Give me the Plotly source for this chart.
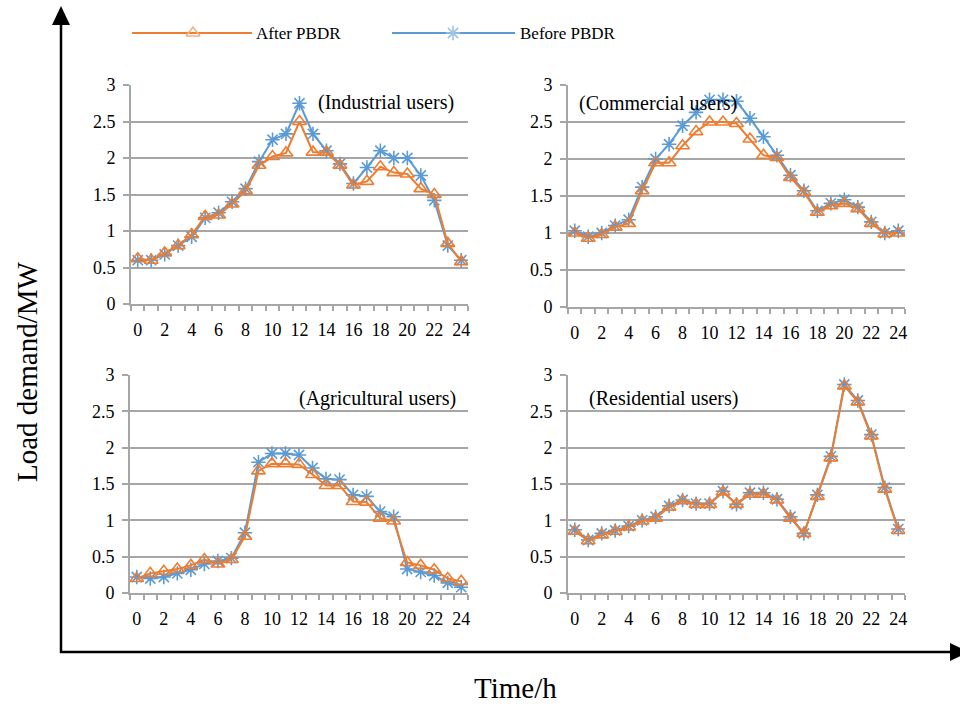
import plotly.graph_objects as go

hours = list(range(25))
tick_vals = list(range(0, 25, 2))
tick_text = [str(v) for v in tick_vals]

industrial_before = [0.60, 0.60, 0.68, 0.80, 0.92, 1.18, 1.25, 1.40, 1.58, 1.95, 2.25, 2.33, 2.75,
                     2.33, 2.10, 1.92, 1.65, 1.87, 2.10, 2.00, 2.00, 1.76, 1.42, 0.80, 0.60]
industrial_after = [0.62, 0.60, 0.70, 0.80, 0.95, 1.20, 1.22, 1.37, 1.55, 1.90, 2.02, 2.07, 2.50,
                    2.08, 2.08, 1.90, 1.63, 1.68, 1.88, 1.80, 1.78, 1.58, 1.50, 0.83, 0.58]

commercial_before = [1.03, 0.95, 1.00, 1.10, 1.18, 1.62, 2.00, 2.20, 2.45, 2.63, 2.80, 2.80, 2.78,
                     2.55, 2.30, 2.05, 1.78, 1.57, 1.30, 1.40, 1.45, 1.35, 1.15, 1.00, 1.03]
commercial_after = [1.00, 0.93, 0.98, 1.08, 1.13, 1.57, 1.95, 1.95, 2.18, 2.37, 2.50, 2.50, 2.48,
                    2.27, 2.05, 2.02, 1.75, 1.55, 1.28, 1.37, 1.40, 1.33, 1.13, 0.99, 1.00]

agricultural_before = [0.22, 0.20, 0.22, 0.27, 0.32, 0.40, 0.44, 0.48, 0.83, 1.80, 1.92, 1.92, 1.90,
                       1.72, 1.57, 1.56, 1.35, 1.33, 1.12, 1.05, 0.33, 0.29, 0.24, 0.14, 0.08]
agricultural_after = [0.20, 0.27, 0.30, 0.33, 0.38, 0.46, 0.40, 0.46, 0.78, 1.68, 1.78, 1.78, 1.77,
                      1.63, 1.48, 1.48, 1.26, 1.25, 1.03, 0.99, 0.42, 0.38, 0.32, 0.20, 0.16]

residential_before = [0.87, 0.73, 0.82, 0.86, 0.92, 1.00, 1.05, 1.20, 1.28, 1.23, 1.23, 1.40, 1.22,
                      1.38, 1.38, 1.29, 1.05, 0.82, 1.35, 1.88, 2.87, 2.65, 2.18, 1.45, 0.88]
residential_after = [0.85, 0.72, 0.80, 0.85, 0.91, 0.99, 1.03, 1.18, 1.27, 1.22, 1.22, 1.39, 1.22,
                     1.36, 1.36, 1.28, 1.03, 0.82, 1.33, 1.86, 2.85, 2.63, 2.16, 1.43, 0.86]

panel_titles = ["(Industrial users)", "(Commercial users)", "(Agricultural users)", "(Residential users)"]
series_names = ["After PBDR", "Before PBDR"]

ORANGE = "#ED7D31"
BLUE = "#5B9BD5"
GRID = "#a6a6a6"
FONT = "Liberation Serif"

W, H = 960, 704

def px_x(p):
    return p / W

def px_y(p):
    return 1 - p / H

# panel pixel boxes: (left, right, top, bottom)
boxes = [(131, 468, 85, 304), (568, 905, 85, 307), (130, 468, 375, 593), (568, 905, 375, 593)]
data_pairs = [(industrial_before, industrial_after), (commercial_before, commercial_after),
              (agricultural_before, agricultural_after), (residential_before, residential_after)]
title_pos = [(0.549, 0.918), (0.027, 0.918), (0.494, 0.894), (0.056, 0.894)]

fig = go.Figure()
layout = dict(
    width=W, height=H, margin=dict(l=0, r=0, t=0, b=0, pad=0, autoexpand=False),
    paper_bgcolor="white", plot_bgcolor="white", showlegend=False,
    font=dict(family=FONT, color="black"),
)
annotations = []

for i, ((l, r, t, b), (before, after)) in enumerate(zip(boxes, data_pairs)):
    n = i + 1
    xa = "x" if n == 1 else f"x{n}"
    ya = "y" if n == 1 else f"y{n}"
    fig.add_trace(go.Scatter(x=hours, y=before, mode="lines+markers", name=series_names[1],
                             line=dict(color=BLUE, width=2),
                             marker=dict(symbol="asterisk-open", size=12, color=BLUE, line=dict(color=BLUE, width=1.6)),
                             xaxis=xa, yaxis=ya))
    fig.add_trace(go.Scatter(x=hours, y=after, mode="lines+markers", name=series_names[0],
                             line=dict(color=ORANGE, width=2),
                             marker=dict(symbol="triangle-up-open", size=12, color=ORANGE, line=dict(color=ORANGE, width=1.6)),
                             xaxis=xa, yaxis=ya))
    kx = "xaxis" if n == 1 else f"xaxis{n}"
    ky = "yaxis" if n == 1 else f"yaxis{n}"
    layout[kx] = dict(domain=[px_x(l), px_x(r)], anchor=ya, range=[-0.5, 24.5], automargin=False,
                      tickvals=tick_vals, ticktext=tick_text, ticks="", showgrid=False,
                      showline=True, linecolor=GRID, linewidth=2, zeroline=False,
                      tickfont=dict(family=FONT, size=18, color="black"), ticklabelstandoff=8,
                      minor=dict(ticks="outside", tick0=-0.5, dtick=1, ticklen=5, tickcolor=GRID, tickwidth=1.5, showgrid=False))
    layout[ky] = dict(domain=[px_y(b), px_y(t)], anchor=xa, range=[0, 3.0001], automargin=False,
                      tickvals=[0, 0.5, 1, 1.5, 2, 2.5, 3], ticktext=["0", "0.5", "1", "1.5", "2", "2.5", "3"],
                      ticks="outside", ticklen=6, tickcolor=GRID, tickwidth=1.5,
                      showgrid=True, gridcolor=GRID, gridwidth=2,
                      showline=True, linecolor=GRID, linewidth=2, zeroline=False,
                      tickfont=dict(family=FONT, size=18, color="black"), ticklabelstandoff=4)
    tx, ty = title_pos[i]
    annotations.append(dict(text=panel_titles[i], xref=f"{xa} domain", yref=f"{ya} domain",
                            x=tx, y=ty, xanchor="left", yanchor="middle", showarrow=False,
                            font=dict(family=FONT, size=20, color="black")))

# legend drawn on a hidden helper axis (pixel-like coordinates)
legend_y = [0.5, 0.5]
fig.add_trace(go.Scatter(x=[132, 252], y=legend_y, mode="lines", line=dict(color=ORANGE, width=2),
                         xaxis="x9", yaxis="y9", hoverinfo="skip"))
fig.add_trace(go.Scatter(x=[193], y=[0.5], mode="markers",
                         marker=dict(symbol="triangle-up-open", size=12, color="#F4B183", line=dict(color="#F4B183", width=1.6)),
                         xaxis="x9", yaxis="y9", hoverinfo="skip"))
fig.add_trace(go.Scatter(x=[392, 515], y=legend_y, mode="lines", line=dict(color=BLUE, width=2),
                         xaxis="x9", yaxis="y9", hoverinfo="skip"))
fig.add_trace(go.Scatter(x=[453], y=[0.5], mode="markers",
                         marker=dict(symbol="asterisk-open", size=12, color="#9DC3E6", line=dict(color="#9DC3E6", width=1.6)),
                         xaxis="x9", yaxis="y9", hoverinfo="skip"))
layout["xaxis9"] = dict(domain=[0, 1], range=[0, W], visible=False, anchor="y9", automargin=False)
layout["yaxis9"] = dict(domain=[px_y(46), px_y(20)], range=[0, 1], visible=False, anchor="x9", automargin=False)
annotations.append(dict(text=series_names[0], xref="paper", yref="paper", x=px_x(254), y=px_y(33),
                        xanchor="left", yanchor="middle", showarrow=False, font=dict(family=FONT, size=17)))
annotations.append(dict(text=series_names[1], xref="paper", yref="paper", x=px_x(518), y=px_y(33),
                        xanchor="left", yanchor="middle", showarrow=False, font=dict(family=FONT, size=17)))

# axis titles
annotations.append(dict(text="Load demand/MW", xref="paper", yref="paper", x=px_x(27), y=px_y(372),
                        xanchor="center", yanchor="middle", textangle=-90, showarrow=False,
                        font=dict(family=FONT, size=29)))
annotations.append(dict(text="Time/h", xref="paper", yref="paper", x=px_x(515), y=px_y(688),
                        xanchor="center", yanchor="middle", showarrow=False,
                        font=dict(family=FONT, size=29)))

# big arrow axes
shapes = [
    dict(type="line", xref="paper", yref="paper", x0=px_x(61), y0=px_y(653), x1=px_x(61), y1=px_y(22),
         line=dict(color="black", width=2.5)),
    dict(type="line", xref="paper", yref="paper", x0=px_x(60), y0=px_y(652), x1=px_x(952), y1=px_y(652),
         line=dict(color="black", width=2.5)),
    dict(type="path", xref="paper", yref="paper",
         path=f"M {px_x(61)} {px_y(6)} L {px_x(52)} {px_y(25)} L {px_x(70)} {px_y(25)} Z",
         fillcolor="black", line=dict(color="black", width=0)),
    dict(type="path", xref="paper", yref="paper",
         path=f"M {px_x(969)} {px_y(652)} L {px_x(950)} {px_y(643)} L {px_x(950)} {px_y(661)} Z",
         fillcolor="black", line=dict(color="black", width=0)),
]

layout["annotations"] = annotations
layout["shapes"] = shapes
fig.update_layout(**layout)
fig.write_html("out.html")
